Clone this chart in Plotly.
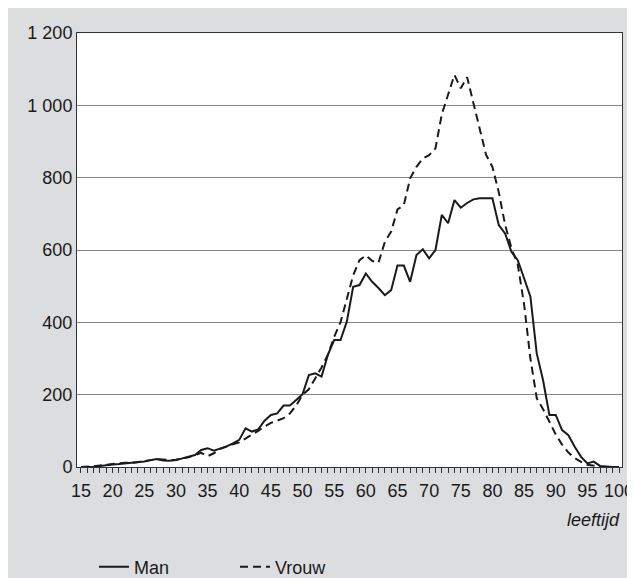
import plotly.graph_objects as go

ages = list(range(15, 101))

man = [0, 0, 1, 3, 6, 7, 8, 10, 11, 12,
       15, 19, 22, 18, 17, 19, 24, 28, 33, 47,
       52, 45, 50, 57, 65, 75, 107, 98, 104, 128,
       144, 148, 170, 170, 185, 201, 254, 259, 250, 310,
       351, 351, 402, 498, 503, 535, 512, 495, 475, 489,
       557, 557, 512, 586, 602, 577, 600, 697, 674, 738,
       717, 730, 740, 743, 743, 743, 669, 646, 595, 572,
       522, 471, 314, 240, 144, 144, 102, 88, 56, 28,
       10, 15, 3, 1, 0, 0]

vrouw = [0, 0, 2, 4, 6, 8, 10, 12, 11, 13,
         16, 19, 22, 20, 19, 20, 23, 27, 33, 39,
         30, 38, 50, 57, 63, 68, 78, 88, 100, 112,
         122, 128, 135, 148, 170, 200, 215, 245, 275, 310,
         360, 400, 466, 530, 572, 585, 570, 565, 622, 651,
         712, 724, 798, 830, 853, 862, 881, 975, 1030, 1084,
         1047, 1078, 1006, 932, 863, 830, 760, 670, 605, 560,
         450, 300, 190, 160, 125, 90, 62, 40, 25, 14,
         6, 3, 1, 0, 0, 0]

y_ticks = [0, 200, 400, 600, 800, 1000, 1200]
y_labels = ["0", "200", "400", "600", "800", "1 000", "1 200"]
x_ticks = list(range(15, 101, 5))
x_labels = [str(v) for v in x_ticks]

FONT = "Liberation Sans, Arial, sans-serif"
GRAY = "#dcdddf"
W, H = 627, 570

fig = go.Figure()
fig.add_trace(go.Scatter(x=ages, y=man, name="Man", mode="lines",
                         line=dict(color="#1a1a1a", width=2)))
fig.add_trace(go.Scatter(x=ages, y=vrouw, name="Vrouw", mode="lines",
                         line=dict(color="#1a1a1a", width=2, dash="8px,5px")))

fig.update_layout(
    width=W, height=H,
    margin=dict(l=69, r=13, t=25, b=111, autoexpand=False),
    paper_bgcolor=GRAY,
    plot_bgcolor="white",
    font=dict(family=FONT, size=18, color="#1a1a1a"),
    showlegend=True,
    legend=dict(orientation="h", xref="container", yref="container",
                x=86 / W, y=11 / H, xanchor="left", yanchor="middle",
                bgcolor="rgba(0,0,0,0)", font=dict(size=18),
                entrywidth=96, traceorder="normal"),
    xaxis=dict(range=[14.37, 100.47], tickvals=x_ticks, ticktext=x_labels,
               ticks="outside", ticklen=5, tickcolor="#333", tickwidth=1,
               minor=dict(dtick=1, tick0=15, ticks="outside", ticklen=5,
                          tickcolor="#333", tickwidth=1, showgrid=False),
               showgrid=False, zeroline=False, automargin=False,
               ticklabelstandoff=2,
               showline=True, linecolor="#333", linewidth=1, mirror=True,
               tickfont=dict(size=18)),
    yaxis=dict(range=[0, 1200], tickvals=y_ticks, ticktext=y_labels,
               showgrid=True, gridcolor="#888", gridwidth=1.2,
               zeroline=False, ticks="", automargin=False,
               showline=True, linecolor="#333", linewidth=1, mirror=True,
               tickfont=dict(size=18)),
    annotations=[
        dict(text="<i>leeftijd</i>", xref="paper", yref="paper",
             x=1, y=(459 - 512) / 434, xanchor="right", yanchor="middle",
             showarrow=False, font=dict(size=18)),
    ],
)

fig.write_html("out.html")
